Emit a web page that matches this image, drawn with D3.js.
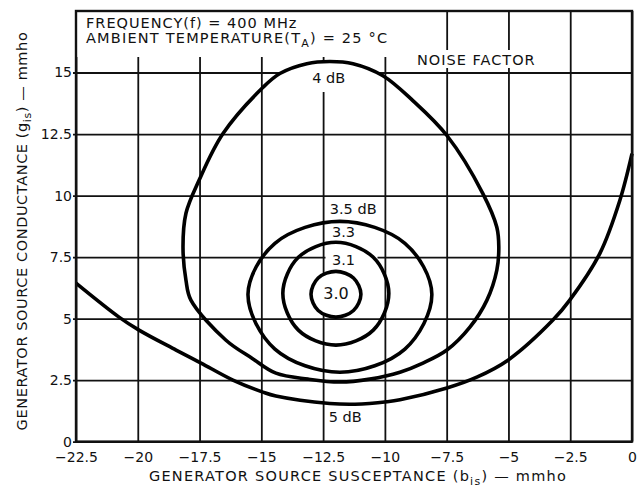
<!DOCTYPE html>
<html>
<head>
<meta charset="utf-8">
<script src="https://cdn.jsdelivr.net/npm/d3@7"></script>
<style>
  body { margin: 0; background: #fff; }
  text { font-family: "DejaVu Sans", sans-serif; fill: #111; }
</style>
</head>
<body>
<svg width="644" height="488"></svg>
<script>
var xTicks = [-22.5, -20, -17.5, -15, -12.5, -10, -7.5, -5, -2.5, 0];
var yTicks = [0, 2.5, 5, 7.5, 10, 12.5, 15];

// noise factor contours, [b_is, g_is] in mmho
var nf4dB = [[-12.23,15.45],[-11.29,15.36],[-10.08,14.87],[-8.87,13.86],[-7.49,12.44],
  [-6.04,10.09],[-5.47,8.71],[-5.39,7.90],[-5.47,6.97],[-5.87,5.75],[-6.56,4.65],
  [-7.49,3.72],[-8.46,3.19],[-9.39,2.82],[-10.61,2.54],[-11.82,2.42],[-13.11,2.54],
  [-14.41,2.78],[-15.38,3.39],[-16.43,4.12],[-17.85,5.75],[-18.05,6.56],
  [-18.17,7.90],[-18.05,9.28],[-17.52,10.62],[-16.55,12.52],[-14.94,14.39],
  [-14.25,14.96],[-13.16,15.36]];
var nf35 = [[-11.82,8.95],[-9.19,8.06],[-8.10,5.99],[-9.19,3.76],[-11.82,2.82],
  [-14.45,3.76],[-15.54,5.99],[-14.45,8.06]];
var nf33 = [[-11.98,8.10],[-10.47,7.49],[-9.84,6.03],[-10.47,4.53],[-11.98,3.92],
  [-13.50,4.53],[-14.13,6.03],[-13.50,7.49]];
var nf31 = [[-11.98,6.92],[-11.27,6.65],[-10.97,5.99],[-11.27,5.33],[-11.98,5.06],
  [-12.70,5.33],[-12.99,5.99],[-12.70,6.65]];
var nf5dB = [[-22.5,6.44],[-20.76,5.06],[-19.95,4.53],[-18.45,3.72],[-17.44,3.19],
  [-16.15,2.50],[-14.94,2.01],[-14.41,1.85],[-12.23,1.55],[-11.21,1.52],[-9.92,1.62],
  [-9.39,1.70],[-7.49,2.18],[-6.28,2.62],[-5.02,3.31],[-3.20,4.94],[-2.52,5.75],
  [-1.30,7.65],[-0.49,9.81],[0,11.7]];

var svg = d3.select('svg');
var plotL = 76, plotR = 632, plotT = 11, plotB = 441.6;

var x = d3.scaleLinear().domain([-22.5, 0]).range([plotL, plotR]);
var y = d3.scaleLinear().domain([0, 17.5]).range([plotB, plotT]);
var fmt = d3.format('');

// grid lines come from the axes' ticks
var gx = svg.append('g')
  .attr('transform', 'translate(0,' + plotB + ')')
  .call(d3.axisBottom(x).tickValues(xTicks).tickFormat(fmt)
    .tickSize(-(plotB - plotT)).tickPadding(10));
var gy = svg.append('g')
  .attr('transform', 'translate(' + plotL + ',0)')
  .call(d3.axisLeft(y).tickValues(yTicks).tickFormat(fmt)
    .tickSizeInner(-(plotR - plotL)).tickSizeOuter(0).tickPadding(4));

[gx, gy].forEach(function(g) {
  g.select('.domain').remove();
  g.selectAll('line').attr('stroke', '#111').attr('stroke-width', 1.8);
  g.selectAll('text').attr('font-size', 14).attr('fill', '#111')
    .attr('font-family', '"DejaVu Sans", sans-serif');
});
gy.selectAll('line').attr('x1', -3);

// white patches behind the lettering
var patches = [
  [77, 12, 345, 45],     // header
  [414, 50, 124, 18],    // NOISE FACTOR
  [279, 60, 100, 32],    // 4 dB
  [325.5, 252, 52, 15]   // 3.1
];
svg.append('g').selectAll('rect').data(patches).enter()
  .append('rect')
  .attr('x', function(d) { return d[0]; })
  .attr('y', function(d) { return d[1]; })
  .attr('width', function(d) { return d[2]; })
  .attr('height', function(d) { return d[3]; })
  .attr('fill', '#fff');

var loopLine = d3.line()
  .x(function(d) { return x(d[0]); })
  .y(function(d) { return y(d[1]); })
  .curve(d3.curveCatmullRomClosed.alpha(0.5));
var openLine = d3.line()
  .x(function(d) { return x(d[0]); })
  .y(function(d) { return y(d[1]); })
  .curve(d3.curveCatmullRom.alpha(0.5));

var loops = [nf4dB, nf35, nf33, nf31];
svg.append('g').selectAll('path.contour').data(loops).enter()
  .append('path')
  .classed('contour', true)
  .attr('d', function(d) { return loopLine(d); })
  .attr('fill', function(d) { return d === nf31 ? '#fff' : 'none'; })
  .attr('stroke', '#000')
  .attr('stroke-width', 3.6);

svg.append('path')
  .datum(nf5dB)
  .attr('d', function(d) { return openLine(d); })
  .attr('fill', 'none')
  .attr('stroke', '#000')
  .attr('stroke-width', 3.6);

// frame
svg.append('rect')
  .attr('x', plotL).attr('y', plotT)
  .attr('width', plotR - plotL).attr('height', plotB - plotT)
  .attr('fill', 'none').attr('stroke', '#111').attr('stroke-width', 2.4);

// contour labels
function label(t, b, g, anchor, size) {
  svg.append('text')
    .attr('x', x(b)).attr('y', y(g))
    .attr('text-anchor', anchor || 'start')
    .attr('font-size', size || 14.5)
    .text(t);
}
label('4 dB', -12.27, 14.59, 'middle');
label('3.5 dB', -12.23, 9.24);
label('3.3', -12.14, 8.30);
label('3.1', -12.14, 7.17);
label('3.0', -11.98, 5.79, 'middle', 16);
label('5 dB', -12.27, 0.80);

svg.append('text').attr('x', 417).attr('y', 65).attr('font-size', 14.5)
  .attr('letter-spacing', 1).text('NOISE FACTOR');

svg.append('text').attr('x', 86).attr('y', 28).attr('font-size', 14.5)
  .attr('letter-spacing', 1).text('FREQUENCY(f) = 400 MHz');
var amb = svg.append('text').attr('x', 86).attr('y', 43).attr('font-size', 14.5)
  .attr('letter-spacing', 1.2);
amb.append('tspan').text('AMBIENT TEMPERATURE(T');
amb.append('tspan').attr('font-size', 11).attr('dy', 4).text('A');
amb.append('tspan').attr('dy', -4).text(') = 25 °C');

// axis titles
var xt = svg.append('text').attr('x', 358).attr('y', 481)
  .attr('text-anchor', 'middle').attr('font-size', 14.5).attr('letter-spacing', 1.25);
xt.append('tspan').text('GENERATOR SOURCE SUSCEPTANCE (b');
xt.append('tspan').attr('font-size', 11).attr('dy', 4).text('is');
xt.append('tspan').attr('dy', -4).text(') — mmho');

var yt = svg.append('text')
  .attr('transform', 'translate(27,231) rotate(-90)')
  .attr('text-anchor', 'middle').attr('font-size', 14.5).attr('letter-spacing', 0.6);
yt.append('tspan').text('GENERATOR SOURCE CONDUCTANCE (g');
yt.append('tspan').attr('font-size', 11).attr('dy', 4).text('is');
yt.append('tspan').attr('dy', -4).text(') — mmho');
</script>
</body>
</html>
